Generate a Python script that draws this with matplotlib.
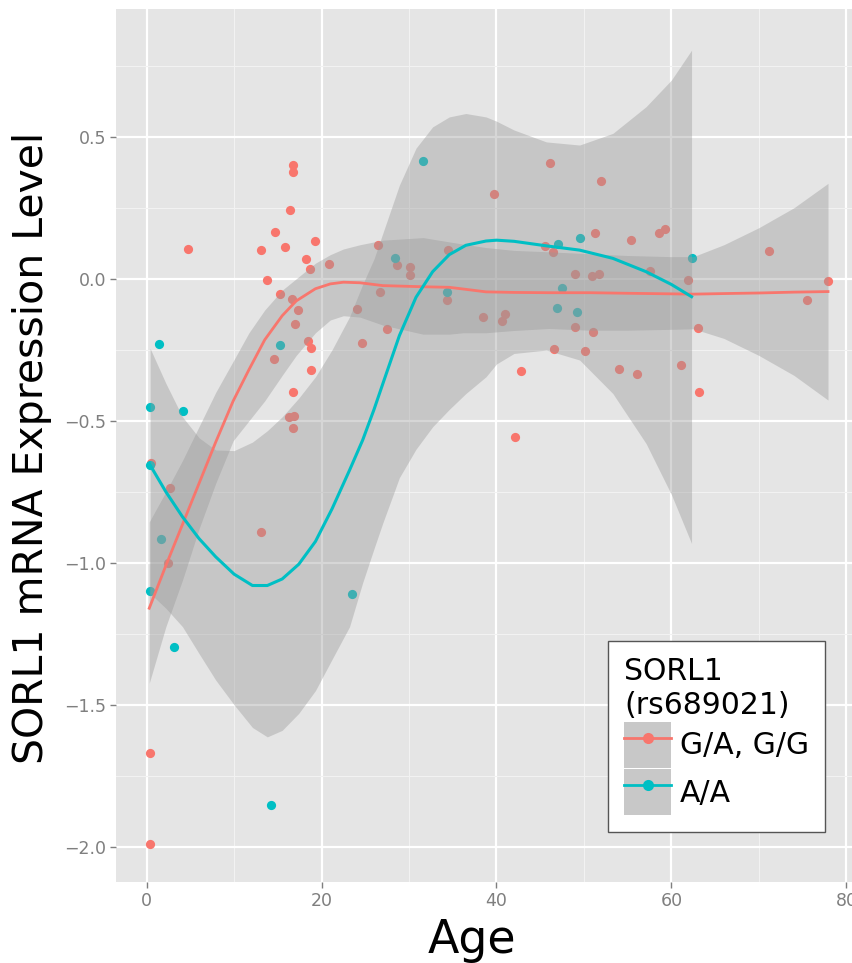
import matplotlib
matplotlib.use("Agg")
import matplotlib.pyplot as plt
from matplotlib.lines import Line2D
from matplotlib.patches import Patch

# -----------------------------
# DATA
# -----------------------------
# G/A, G/G carriers
ga_age = [4.7, 16.75, 16.7, 16.4, 14.7, 13.1, 15.8, 19.3, 18.2, 18.7, 20.9, 13.75,
          15.2, 16.6, 17.3, 17.0, 24.0, 14.6, 18.4, 18.8, 18.8, 16.7, 16.3, 16.8,
          16.7, 0.45, 2.7, 2.5, 13.1, 0.34, 0.34, 46.1, 39.7, 26.5, 34.5, 45.6,
          46.5, 28.6, 30.1, 30.1, 26.7, 34.3, 27.5, 24.6, 38.4, 41.0, 40.6, 49.0,
          49.0, 46.6, 50.1, 42.8, 42.1, 51.9, 51.3, 55.4, 58.6, 59.3, 71.1, 50.9,
          51.7, 57.6, 61.9, 77.9, 75.5, 51.0, 63.0, 54.0, 56.1, 61.1, 63.2]
ga_expr = [0.106, 0.40, 0.375, 0.244, 0.166, 0.10, 0.113, 0.133, 0.069, 0.034, 0.052, -0.006,
           -0.054, -0.07, -0.11, -0.16, -0.108, -0.284, -0.22, -0.245, -0.32, -0.398, -0.488, -0.482,
           -0.525, -0.65, -0.737, -1.0, -0.893, -1.671, -1.99, 0.406, 0.297, 0.118, 0.101, 0.116,
           0.093, 0.047, 0.042, 0.012, -0.048, -0.075, -0.176, -0.225, -0.134, -0.123, -0.15, 0.017,
           -0.171, -0.248, -0.255, -0.325, -0.556, 0.343, 0.163, 0.136, 0.161, 0.176, 0.099, 0.009,
           0.018, 0.026, -0.006, -0.008, -0.075, -0.186, -0.175, -0.317, -0.335, -0.303, -0.398]

# A/A carriers
aa_age = [1.4, 15.2, 0.4, 4.2, 0.4, 1.6, 0.4, 3.1, 23.5, 14.2, 31.6, 47.0, 49.5,
          28.4, 34.3, 47.5, 46.9, 49.2, 62.3]
aa_expr = [-0.23, -0.232, -0.452, -0.465, -0.656, -0.917, -1.10, -1.298, -1.109, -1.853,
           0.414, 0.123, 0.144, 0.072, -0.047, -0.034, -0.104, -0.116, 0.073]

# loess fits with confidence bands
ga_fit_age = [0.3, 2.2, 4.1, 6.0, 7.9, 9.9, 11.7, 13.5, 15.5, 17.1, 19.3, 21.0, 22.5,
              24.4, 27.0, 31.6, 34.6, 36.2, 38.8, 42.0, 46.0, 50.7, 55.0, 60.0, 62.5,
              66.0, 70.0, 74.0, 77.9]
ga_fit = [-1.16, -1.01, -0.865, -0.72, -0.575, -0.43, -0.32, -0.215, -0.13, -0.078, -0.035,
          -0.018, -0.012, -0.014, -0.024, -0.028, -0.030, -0.036, -0.046, -0.048, -0.049,
          -0.049, -0.051, -0.053, -0.054, -0.052, -0.050, -0.047, -0.045]
ga_hi = [-0.856, -0.75, -0.64, -0.52, -0.40, -0.29, -0.19, -0.11, -0.04, 0.0, 0.055,
         0.085, 0.105, 0.12, 0.136, 0.145, 0.13, 0.122, 0.11, 0.10, 0.095, 0.088, 0.082,
         0.078, 0.078, 0.12, 0.18, 0.25, 0.336]
ga_lo = [-1.424, -1.225, -1.061, -0.88, -0.72, -0.57, -0.50, -0.43, -0.34, -0.27, -0.19,
         -0.145, -0.13, -0.135, -0.163, -0.195, -0.195, -0.19, -0.19, -0.182, -0.175,
         -0.181, -0.181, -0.178, -0.176, -0.21, -0.27, -0.34, -0.427]

aa_fit_age = [0.4, 2.2, 4.1, 6.0, 7.9, 10.0, 12.1, 13.8, 15.5, 17.4, 19.3, 21.2, 23.2,
              24.7, 26.0, 27.0, 28.9, 30.8, 32.7, 34.6, 36.5, 38.8, 40.0, 42.0, 45.7,
              49.5, 53.3, 57.1, 60.0, 62.3]
aa_fit = [-0.656, -0.75, -0.838, -0.915, -0.979, -1.04, -1.08, -1.08, -1.057, -1.005, -0.925,
          -0.81, -0.674, -0.568, -0.46, -0.37, -0.20, -0.065, 0.025, 0.085, 0.118, 0.133,
          0.136, 0.132, 0.116, 0.101, 0.072, 0.025, -0.02, -0.063]
aa_hi = [-0.245, -0.368, -0.486, -0.56, -0.603, -0.605, -0.575, -0.535, -0.486, -0.42, -0.345,
         -0.25, -0.134, -0.02, 0.07, 0.16, 0.33, 0.46, 0.535, 0.57, 0.582, 0.57, 0.555,
         0.524, 0.482, 0.471, 0.512, 0.606, 0.70, 0.805]
aa_lo = [-1.108, -1.16, -1.225, -1.32, -1.413, -1.50, -1.58, -1.613, -1.59, -1.53, -1.45,
         -1.34, -1.225, -1.07, -0.95, -0.86, -0.70, -0.60, -0.521, -0.46, -0.404, -0.345,
         -0.30, -0.263, -0.251, -0.286, -0.404, -0.58, -0.76, -0.932]

x_ticks = [0, 20, 40, 60, 80]
y_ticks = [-2.0, -1.5, -1.0, -0.5, 0.0, 0.5]

RED = "#F8766D"
CYAN = "#00BFC4"

# -----------------------------
# PLOT
# -----------------------------
plt.rcParams["font.family"] = ["DejaVu Sans"]

fig = plt.figure(figsize=(8.53, 9.63), dpi=100)
ax = fig.add_axes([116 / 853, 81 / 963, 747 / 853, 873 / 963])
ax.set_facecolor("#E5E5E5")
for s in ax.spines.values():
    s.set_visible(False)

ax.scatter(ga_age, ga_expr, s=44, color=RED, linewidths=0, zorder=2)
ax.scatter(aa_age, aa_expr, s=44, color=CYAN, linewidths=0, zorder=2)

ax.fill_between(ga_fit_age, ga_lo, ga_hi, color="#999999", alpha=0.4, linewidth=0, zorder=3)
ax.fill_between(aa_fit_age, aa_lo, aa_hi, color="#999999", alpha=0.4, linewidth=0, zorder=3)
ax.plot(ga_fit_age, ga_fit, color=RED, lw=2, zorder=4)
ax.plot(aa_fit_age, aa_fit, color=CYAN, lw=2.2, zorder=4)

ax.set_xlim(-3.5, 81.9)
ax.set_ylim(-2.124, 0.95)
ax.set_xticks(x_ticks)
ax.set_yticks(y_ticks)
ax.set_xticklabels([str(t) for t in x_ticks])
ax.set_yticklabels(["\u2212%.1f" % abs(t) if t < 0 else "%.1f" % t for t in y_ticks])
ax.set_xticks([10, 30, 50, 70], minor=True)
ax.set_yticks([-1.75, -1.25, -0.75, -0.25, 0.25, 0.75], minor=True)
ax.grid(which="major", color="white", lw=1.6)
ax.grid(which="minor", color="#F2F2F2", lw=0.8)
ax.set_axisbelow(True)
ax.tick_params(which="major", length=4, width=1, color="#7F7F7F",
               labelcolor="#7F7F7F", labelsize=12.5, pad=3)
ax.tick_params(which="minor", length=0)

fig.text(32 / 853, 1 - 448 / 963, "SORL1 mRNA Expression Level", rotation=90,
         ha="center", va="center", fontsize=29.5)
fig.text(472 / 853, 1 - 940 / 963, "Age", ha="center", va="center", fontsize=33)

key_bg = "#C8C8C8"
handles = [
    (Patch(facecolor=key_bg, edgecolor="none"),
     Line2D([], [], color=RED, lw=2, marker="o", ms=8, markeredgewidth=0)),
    (Patch(facecolor=key_bg, edgecolor="none"),
     Line2D([], [], color=CYAN, lw=2, marker="o", ms=8, markeredgewidth=0)),
]
leg = fig.legend(handles, ["G/A, G/G", "A/A"], title="SORL1\n(rs689021)",
                 loc="upper left", bbox_to_anchor=(608 / 853, 1 - 641 / 963),
                 borderaxespad=0, fontsize=21.5, title_fontsize=21.5, alignment="left",
                 handlelength=1.55, handleheight=2.0, labelspacing=0.05,
                 handletextpad=0.3, borderpad=0.55, fancybox=False, framealpha=1)
leg.get_frame().set_edgecolor("#555555")
leg.get_frame().set_linewidth(1)

fig.savefig("out.png", dpi=100)
